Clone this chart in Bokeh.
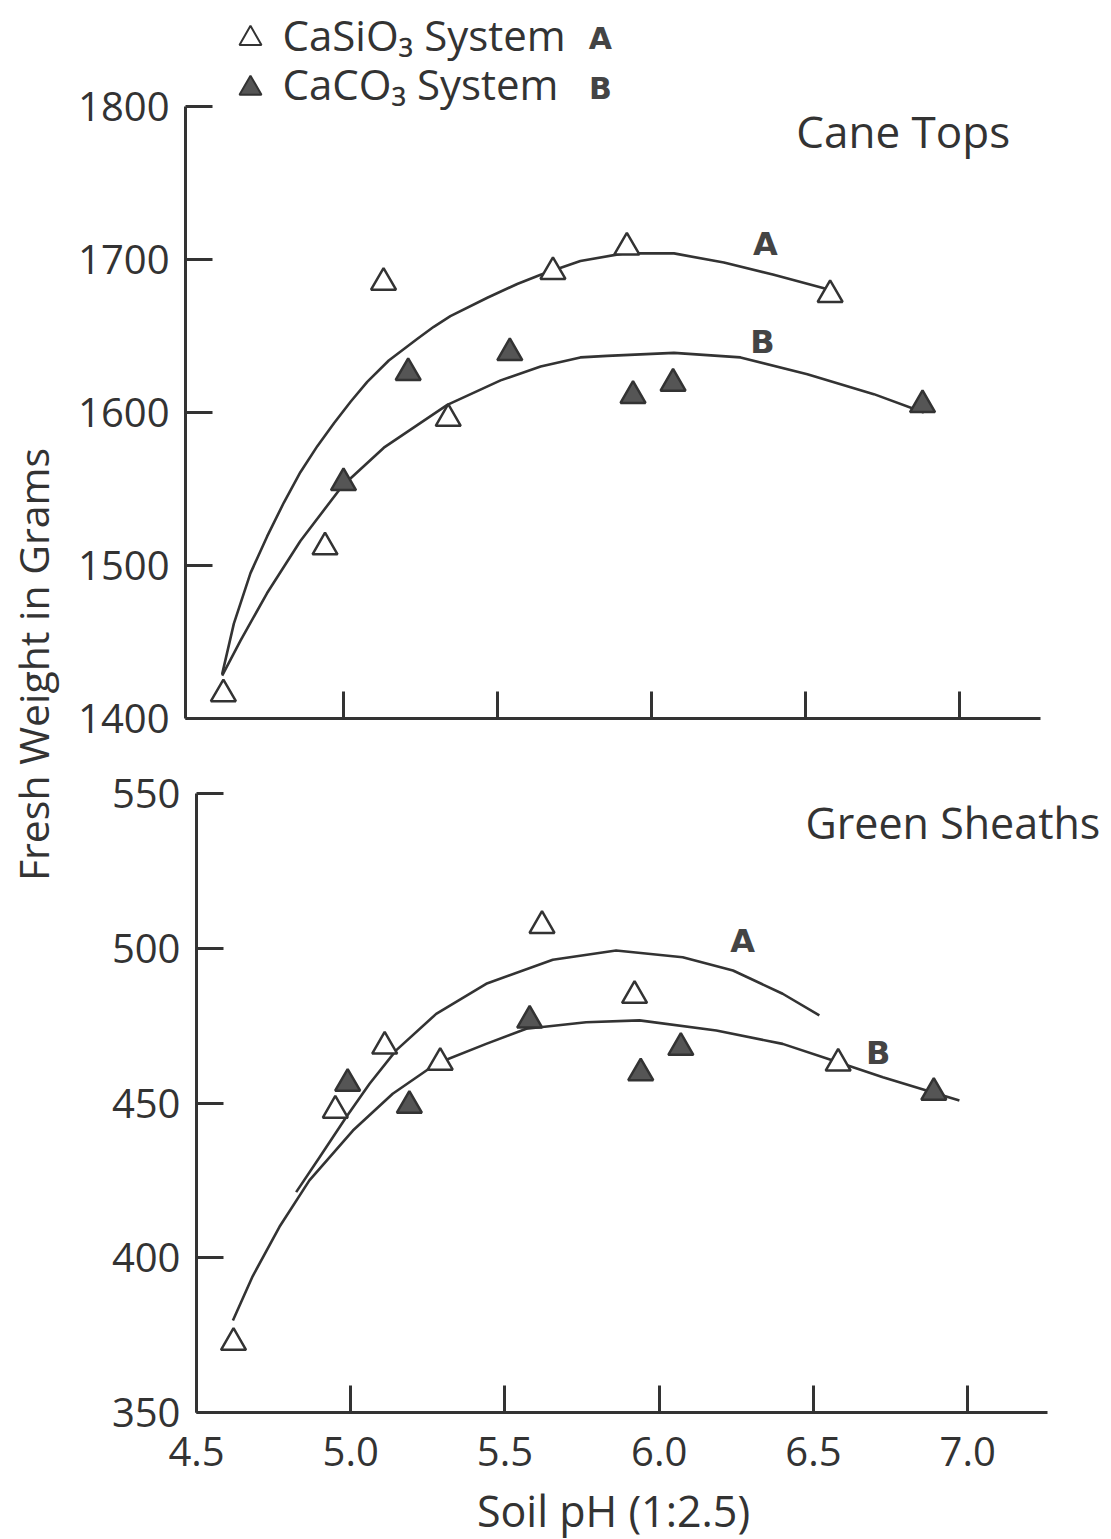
import math
from bokeh.plotting import figure
from bokeh.models import Range1d, FixedTicker, Label, Spacer
from bokeh.layouts import row, column
from bokeh.embed import file_html
from bokeh.resources import INLINE
from bokeh.core.properties import value

FONT = "Open Sans"
INK = "#333333"

# ---------------- data ----------------
x_tick_values = [4.5, 5.0, 5.5, 6.0, 6.5, 7.0]
x_tick_labels = ["4.5", "5.0", "5.5", "6.0", "6.5", "7.0"]
top_y_ticks = [1400, 1500, 1600, 1700, 1800]
bot_y_ticks = [350, 400, 450, 500, 550]

# Cane Tops
top_sil_ph = [4.61, 4.94, 5.13, 5.34, 5.68, 5.92, 6.58]
top_sil_wt = [1416, 1512, 1685, 1596, 1692, 1708, 1677]
top_car_ph = [5.00, 5.21, 5.54, 5.94, 6.07, 6.88]
top_car_wt = [1554, 1626, 1639, 1611, 1619, 1605]

top_curveA_ph = [4.606, 4.644, 4.698, 4.752, 4.806, 4.860, 4.915, 4.969, 5.023, 5.077,
                 5.147, 5.239, 5.293, 5.347, 5.467, 5.564, 5.640, 5.769, 5.910, 6.073,
                 6.235, 6.397, 6.581]
top_curveA_wt = [1429, 1462, 1495, 1519, 1541, 1561, 1578, 1593, 1607, 1620,
                 1634, 1648, 1656, 1663, 1675, 1684, 1690, 1699, 1704, 1704,
                 1698, 1690, 1680]
top_curveB_ph = [4.606, 4.666, 4.752, 4.860, 4.996, 5.131, 5.337, 5.510, 5.640, 5.769,
                 5.856, 6.073, 6.289, 6.506, 6.722, 6.884]
top_curveB_wt = [1428, 1451, 1482, 1516, 1552, 1577, 1605, 1621, 1630, 1636,
                 1637, 1639, 1636, 1625, 1612, 1600]

# Green Sheaths
bot_sil_ph = [4.62, 4.95, 5.11, 5.29, 5.62, 5.92, 6.58]
bot_sil_wt = [372.6, 447.6, 468.3, 463.1, 507.3, 484.7, 462.8]
bot_car_ph = [4.99, 5.19, 5.58, 5.94, 6.07, 6.89]
bot_car_wt = [456.3, 449.2, 476.7, 459.7, 467.9, 453.4]

bot_curveA_ph = [4.823, 4.899, 4.985, 5.061, 5.147, 5.277, 5.439, 5.655, 5.860, 6.076,
                 6.239, 6.400, 6.519]
bot_curveA_wt = [421.2, 432.5, 445.4, 456.2, 467.0, 478.8, 488.5, 496.3, 499.3, 497.1,
                 492.8, 485.3, 478.3]
bot_curveB_ph = [4.618, 4.682, 4.769, 4.866, 5.007, 5.136, 5.277, 5.439, 5.569, 5.763,
                 5.936, 6.185, 6.400, 6.563, 6.725, 6.973]
bot_curveB_wt = [379.7, 394.0, 410.0, 425.0, 441.1, 453.0, 462.7, 469.1, 474.0, 476.1,
                 476.7, 473.4, 469.1, 463.7, 458.3, 450.8]

label_A_top = (6.37, 1710)
label_B_top = (6.36, 1646)
label_A_bot = (6.27, 502.5)
label_B_bot = (6.71, 466)

legend_sil = "CaSiO\u2083 System"
legend_car = "CaCO\u2083 System"


def style(p, yticks, ybounds, xbounds, show_xlabels):
    p.outline_line_color = None
    p.xgrid.visible = False
    p.ygrid.visible = False
    p.background_fill_color = "white"
    p.border_fill_color = "white"
    for ax in (p.xaxis[0], p.yaxis[0]):
        ax.axis_line_width = 3
        ax.axis_line_color = INK
        ax.major_tick_in = 27
        ax.major_tick_out = 0
        ax.major_tick_line_width = 3
        ax.major_tick_line_color = INK
        ax.minor_tick_line_color = None
        ax.major_label_text_font = FONT
        ax.major_label_text_font_size = "40px"
        ax.major_label_text_color = INK
    p.yaxis[0].ticker = FixedTicker(ticks=yticks)
    p.yaxis[0].bounds = ybounds
    p.yaxis[0].major_label_standoff = 16
    p.xaxis[0].bounds = xbounds
    if show_xlabels:
        p.xaxis[0].ticker = FixedTicker(ticks=x_tick_values)
        p.xaxis[0].major_label_overrides = {v: s for v, s in zip(x_tick_values, x_tick_labels)}
        p.xaxis[0].major_label_standoff = 24
    else:
        p.xaxis[0].ticker = FixedTicker(ticks=x_tick_values[1:])
        p.xaxis[0].major_label_overrides = {v: "" for v in x_tick_values[1:]}
        p.xaxis[0].major_label_text_font_size = "8px"
        p.xaxis[0].major_label_standoff = 0


def draw(p, sil_x, sil_y, car_x, car_y, ax_, ay_, bx_, by_, la, lb):
    p.line(ax_, ay_, line_color=INK, line_width=2.6, line_join="round")
    p.line(bx_, by_, line_color=INK, line_width=2.6, line_join="round")
    p.scatter(sil_x, sil_y, marker="triangle", size=25, fill_color="white",
              line_color=INK, line_width=2.5)
    p.scatter(car_x, car_y, marker="triangle", size=25, fill_color="#555555",
              line_color=INK, line_width=2.5)
    for (lx, ly), letter in ((la, "A"), (lb, "B")):
        p.text([lx], [ly], text=[letter], text_font=value("DejaVu Sans"),
               text_font_style="bold", text_font_size="32px", text_color="#444444",
               text_align="center", text_baseline="middle")


TOTAL_H = 1539
YLAB_W = 68
FIG_W = 1111 - YLAB_W
TOP_H = 758
BOT_H = 722
TITLE_H = TOTAL_H - TOP_H - BOT_H
BOT_SHIFT = 11

ylab = figure(width=YLAB_W, height=TOTAL_H, x_range=Range1d(0, YLAB_W), y_range=Range1d(0, TOTAL_H),
              toolbar_location=None, output_backend="svg",
              x_axis_location=None, y_axis_location=None,
              min_border=0, min_border_left=0, min_border_right=0,
              min_border_top=0, min_border_bottom=0)
ylab.outline_line_color = None
ylab.xgrid.visible = False
ylab.ygrid.visible = False
ylab.add_layout(Label(x=32, y=TOTAL_H - 664, text="Fresh Weight in Grams", angle=math.pi / 2,
                      text_font=FONT, text_font_size="41px", text_color=INK,
                      text_align="center", text_baseline="middle"))

# top panel: frame spans from canvas top to the x axis; axis lines limited by bounds
top = figure(width=FIG_W, height=TOP_H, x_range=Range1d(4.487, 7.4935), y_range=Range1d(1400, 1869.28),
             toolbar_location=None, output_backend="svg",
             min_border_left=117, min_border_right=0, min_border_top=0, min_border_bottom=40)
style(top, top_y_ticks, (1400, 1800), (4.487, 7.263), False)
draw(top, top_sil_ph, top_sil_wt, top_car_ph, top_car_wt,
     top_curveA_ph, top_curveA_wt, top_curveB_ph, top_curveB_wt, label_A_top, label_B_top)
top.add_layout(Label(x=6.47, y=1784, text="Cane Tops", text_font=FONT, text_font_size="44px",
                     text_color=INK, text_align="left", text_baseline="middle"))

# legend
leg_sym_y = [1844.4, 1811.8]
leg_txt_y = [1847.0, 1815.0]
top.scatter([4.698], [leg_sym_y[0]], marker="triangle", size=22, fill_color="white",
            line_color=INK, line_width=2)
top.scatter([4.698], [leg_sym_y[1]], marker="triangle", size=22, fill_color="#555555",
            line_color=INK, line_width=2)
top.text([4.802, 4.802], leg_txt_y, text=[legend_sil, legend_car], text_font=value(FONT),
         text_font_size="42px", text_color=INK, text_align="left", text_baseline="middle")
top.text([5.834, 5.834], leg_sym_y, text=["A", "B"], text_font=value("DejaVu Sans"),
         text_font_style="bold", text_font_size="30px", text_color="#444444",
         text_align="center", text_baseline="middle")

bot = figure(width=FIG_W - BOT_SHIFT, height=BOT_H, x_range=Range1d(4.5, 7.466),
             y_range=Range1d(350, 561.31),
             toolbar_location=None, output_backend="svg",
             min_border_left=117, min_border_right=0, min_border_top=0, min_border_bottom=68)
style(bot, bot_y_ticks, (350, 550), (4.5, 7.258), True)
draw(bot, bot_sil_ph, bot_sil_wt, bot_car_ph, bot_car_wt,
     bot_curveA_ph, bot_curveA_wt, bot_curveB_ph, bot_curveB_wt, label_A_bot, label_B_bot)
bot.add_layout(Label(x=6.474, y=540.6, text="Green Sheaths", text_font=FONT, text_font_size="43px",
                     text_color=INK, text_align="left", text_baseline="middle"))

# x axis title in its own strip below the lower panel (its frame starts at page x 185)
xt = figure(width=FIG_W, height=TITLE_H, x_range=Range1d(185, 1111), y_range=Range1d(0, TITLE_H),
            toolbar_location=None, output_backend="svg",
            x_axis_location=None, y_axis_location=None,
            min_border=0, min_border_left=117, min_border_right=0, min_border_top=0, min_border_bottom=0)
xt.outline_line_color = None
xt.xgrid.visible = False
xt.ygrid.visible = False
xt.add_layout(Label(x=613, y=TITLE_H - 30, text="Soil pH (1:2.5)", text_font=FONT,
                    text_font_size="43px", text_color=INK,
                    text_align="center", text_baseline="middle"))

layout = row(ylab, column(top, row(Spacer(width=BOT_SHIFT, height=BOT_H), bot), xt))
open("out.html", "w").write(file_html(layout, INLINE))
